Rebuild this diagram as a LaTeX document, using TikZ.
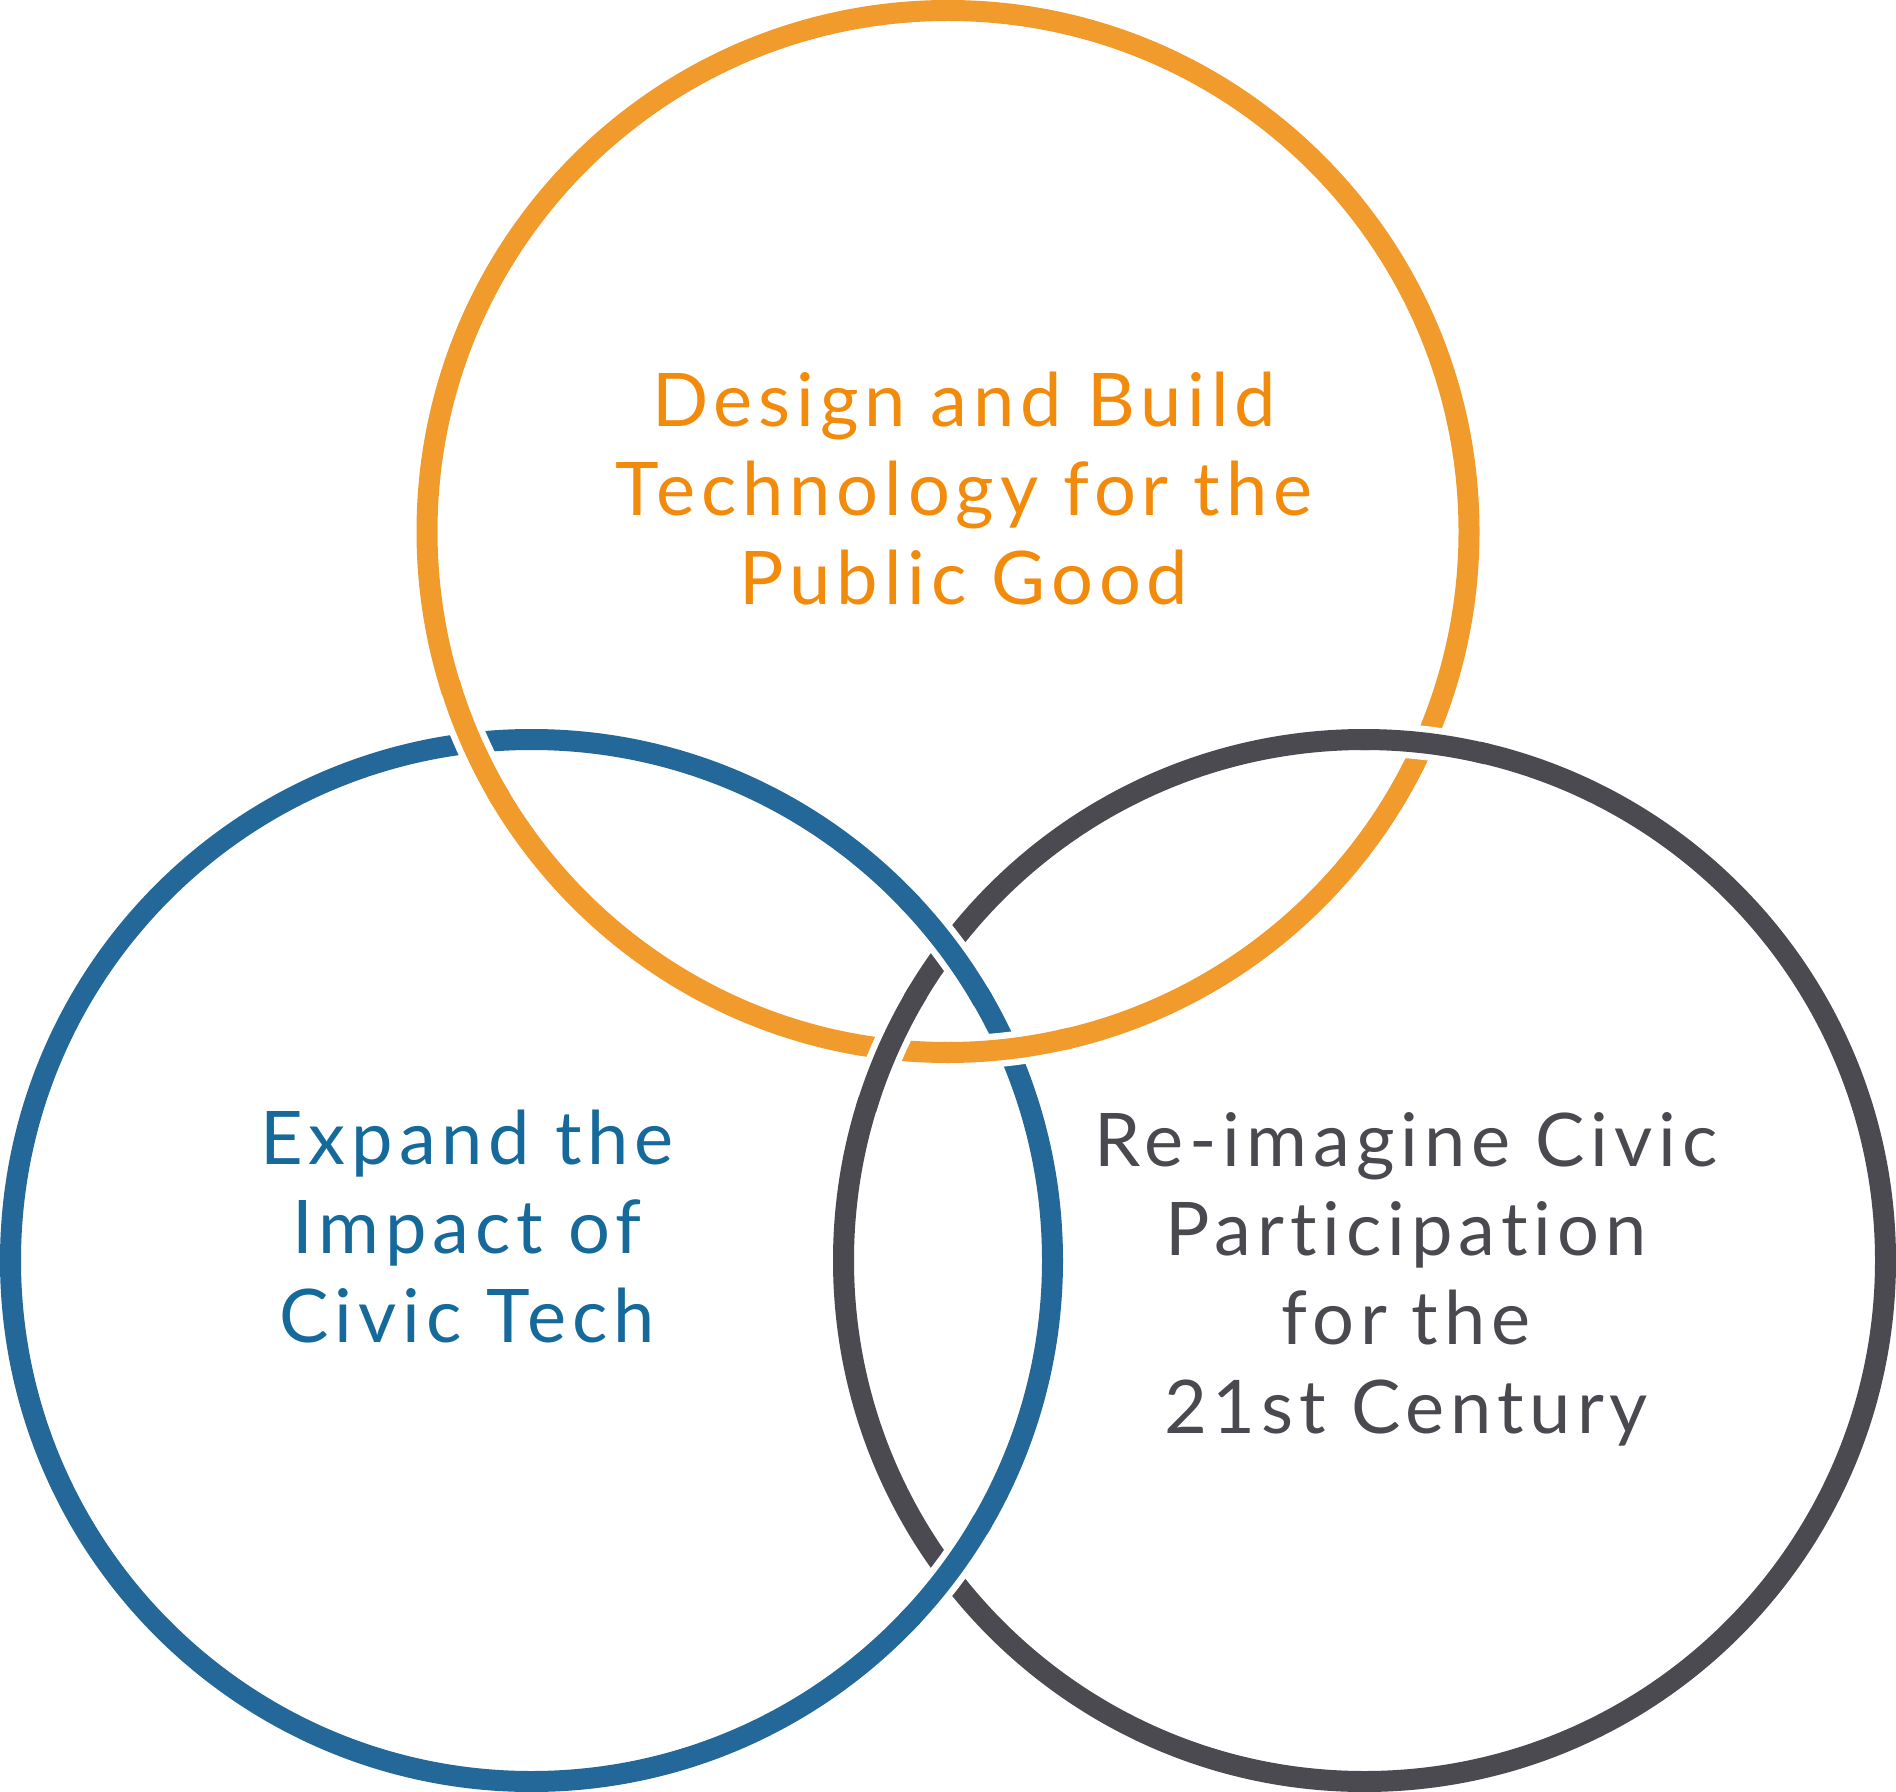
\documentclass[tikz,border=0pt]{standalone}
\usepackage{fontspec}
\setmainfont{Lato}
\newfontfamily\labelfont{Lato}[LetterSpace=8,Ligatures={NoCommon,NoRare}]
\definecolor{ringorange}{HTML}{F09B2B}
\definecolor{ringblue}{HTML}{236898}
\definecolor{ringgray}{HTML}{4B4A51}
\definecolor{textorange}{HTML}{F28B0C}
\definecolor{textblue}{HTML}{156A9B}
\definecolor{textgray}{HTML}{4A4950}
\begin{document}
\begin{tikzpicture}[x=0.5pt,y=-0.5pt,
  ring/.style={line width=10.5pt},
  gapline/.style={white,line width=17pt},
  lbl/.style={font={\labelfont\fontsize{37pt}{44.5pt}\selectfont},align=center,inner sep=0pt}]
\useasboundingbox (0,0) rectangle (1896,1792);
\coordinate (O) at (948,531.5);
\coordinate (B) at (531.5,1260.5);
\coordinate (G) at (1364.5,1260.5);
% full rings
\draw[ring,ringorange] (O) circle[radius=521];
\draw[ring,ringblue] (B) circle[radius=521];
\draw[ring,ringgray] (G) circle[radius=521];
% orange over blue
\foreach \a in {156.06,83.42}{
  \draw[gapline] ([shift={(\a-6:521)}]O) arc[start angle=\a-6,end angle=\a+6,radius=521];
  \draw[ring,ringorange] ([shift={(\a-7:521)}]O) arc[start angle=\a-7,end angle=\a+7,radius=521];
}
% gray over orange
\foreach \a in {-83.42,203.94}{
  \draw[gapline] ([shift={(\a-6:521)}]G) arc[start angle=\a-6,end angle=\a+6,radius=521];
  \draw[ring,ringgray] ([shift={(\a-7:521)}]G) arc[start angle=\a-7,end angle=\a+7,radius=521];
}
% blue over gray
\foreach \a in {-36.93,36.93}{
  \draw[gapline] ([shift={(\a-6:521)}]B) arc[start angle=\a-6,end angle=\a+6,radius=521];
  \draw[ring,ringblue] ([shift={(\a-7:521)}]B) arc[start angle=\a-7,end angle=\a+7,radius=521];
}
\node[lbl,text=textorange] (design) at (964,489) {Design and Build\\Technology for the\\Public Good};
\node[lbl,text=textblue] (expand) at (467,1227) {Expand the\\Impact of\\Civic Tech};
\node[lbl,text=textgray] (reimagine) at (1406,1279.5) {Re-imagine Civic\\Participation\\for the\\21st Century};
\end{tikzpicture}
\end{document}
